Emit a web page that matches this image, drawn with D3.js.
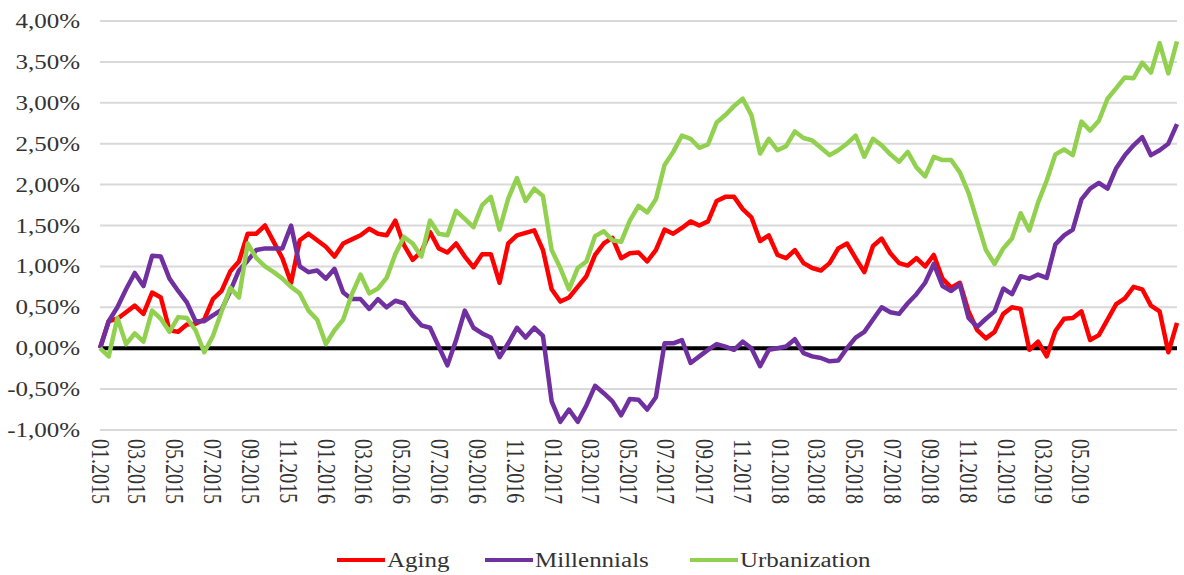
<!DOCTYPE html>
<html lang="en">
  <head>
    <meta charset="UTF-8" />
    <title>Aging, Millennials, Urbanization</title>
    <style>
      body {
        margin: 0;
        background: #fff;
        overflow: hidden;
      }
      text {
        font-family: "Liberation Serif", "Times New Roman", serif;
        fill: #333;
      }
      .grid line {
        stroke: #d9d9d9;
        stroke-width: 2px;
      }
      .series {
        fill: none;
        stroke-width: 4.5px;
        stroke-linejoin: round;
      }
    </style>
  </head>
  <body>
    <div id="chart"></div>
    <script src="https://d3js.org/d3.v7.min.js"></script>
    <script>
      // cumulative performance in %, one reading every two weeks from 01.2015
      const agingValues = [
        0.00, 0.33, 0.36, 0.44, 0.52, 0.42, 0.68, 0.62, 0.22, 0.20,
        0.29, 0.30, 0.35, 0.60, 0.70, 0.94, 1.06, 1.40, 1.40, 1.50,
        1.30, 1.10, 0.80, 1.32, 1.40, 1.32, 1.24, 1.12, 1.28, 1.33,
        1.38, 1.46, 1.40, 1.38, 1.56, 1.26, 1.08, 1.18, 1.42, 1.22,
        1.17, 1.28, 1.12, 0.99, 1.15, 1.15, 0.80, 1.28, 1.38, 1.41,
        1.44, 1.20, 0.72, 0.57, 0.62, 0.75, 0.88, 1.14, 1.28, 1.35,
        1.10, 1.16, 1.17, 1.06, 1.20, 1.45, 1.40, 1.47, 1.55, 1.50,
        1.55, 1.80, 1.85, 1.85, 1.70, 1.60, 1.31, 1.38, 1.14, 1.10,
        1.20, 1.04, 0.98, 0.95, 1.04, 1.22, 1.28, 1.10, 0.93, 1.25,
        1.34, 1.16, 1.04, 1.01, 1.10, 1.00, 1.14, 0.85, 0.74, 0.80,
        0.45, 0.22, 0.12, 0.20, 0.42, 0.50, 0.48, -0.02, 0.08, -0.10,
        0.21, 0.36, 0.37, 0.45, 0.10, 0.16, 0.35, 0.54, 0.61, 0.75,
        0.72, 0.52, 0.45, -0.05, 0.31
      ];
      const millennialsValues = [
        0.00, 0.33, 0.50, 0.72, 0.92, 0.76, 1.13, 1.12, 0.85, 0.70,
        0.56, 0.33, 0.33, 0.40, 0.47, 0.70, 0.95, 1.07, 1.20, 1.22,
        1.22, 1.22, 1.50, 1.00, 0.93, 0.95, 0.85, 0.97, 0.68, 0.60,
        0.60, 0.48, 0.60, 0.50, 0.58, 0.55, 0.40, 0.28, 0.25, 0.02,
        -0.21, 0.10, 0.46, 0.25, 0.18, 0.13, -0.11, 0.06, 0.25, 0.13,
        0.25, 0.15, -0.65, -0.90, -0.75, -0.90, -0.70, -0.46, -0.55, -0.65,
        -0.82, -0.62, -0.63, -0.75, -0.60, 0.06, 0.06, 0.10, -0.18, -0.10,
        -0.02, 0.05, 0.02, -0.02, 0.08, 0.00, -0.22, -0.02, 0.00, 0.02,
        0.11, -0.06, -0.10, -0.12, -0.16, -0.15, 0.00, 0.13, 0.20, 0.35,
        0.50, 0.44, 0.42, 0.55, 0.66, 0.80, 1.03, 0.76, 0.70, 0.78,
        0.37, 0.26, 0.36, 0.45, 0.73, 0.66, 0.88, 0.85, 0.90, 0.86,
        1.27, 1.38, 1.45, 1.82, 1.95, 2.02, 1.95, 2.20, 2.36, 2.48,
        2.58, 2.36, 2.42, 2.50, 2.74
      ];
      const urbanizationValues = [
        0.00, -0.10, 0.37, 0.05, 0.18, 0.08, 0.46, 0.36, 0.20, 0.38,
        0.37, 0.22, -0.05, 0.15, 0.45, 0.74, 0.62, 1.28, 1.10, 1.00,
        0.93, 0.85, 0.75, 0.67, 0.46, 0.35, 0.05, 0.22, 0.35, 0.66,
        0.90, 0.67, 0.73, 0.86, 1.15, 1.36, 1.28, 1.12, 1.56, 1.40,
        1.38, 1.68, 1.58, 1.48, 1.75, 1.85, 1.45, 1.83, 2.08, 1.80,
        1.95, 1.86, 1.20, 0.98, 0.72, 0.98, 1.06, 1.37, 1.43, 1.32,
        1.30, 1.56, 1.74, 1.66, 1.82, 2.24, 2.40, 2.60, 2.56, 2.45,
        2.49, 2.76, 2.85, 2.96, 3.05, 2.85, 2.38, 2.56, 2.42, 2.47,
        2.65, 2.57, 2.54, 2.45, 2.36, 2.42, 2.50, 2.60, 2.34, 2.56,
        2.48, 2.37, 2.28, 2.40, 2.21, 2.10, 2.34, 2.30, 2.30, 2.15,
        1.90, 1.55, 1.20, 1.03, 1.22, 1.34, 1.65, 1.44, 1.78, 2.05,
        2.37, 2.43, 2.36, 2.77, 2.66, 2.78, 3.05, 3.18, 3.31, 3.30,
        3.49, 3.37, 3.73, 3.36, 3.75
      ];

      const seriesNames = ["Aging", "Millennials", "Urbanization"];
      const seriesColors = ["#ff0000", "#7030a0", "#92d050"];
      const yTicks = [-1, -0.5, 0, 0.5, 1, 1.5, 2, 2.5, 3, 3.5, 4];

      const width = 1184;
      const height = 575;
      const margin = { top: 21, right: 7, bottom: 145, left: 100 };
      const stretch = 1.25; // the source picture is wider than tall

      const startDate = new Date(2015, 0, 2);
      const dates = agingValues.map((_, i) => d3.timeDay.offset(startDate, i * 14));
      const monthTicks = d3.timeMonth.range(new Date(2015, 0, 1), new Date(2019, 5, 1), 2);

      const x = d3.scaleTime()
        .domain(d3.extent(dates))
        .range([margin.left, width - margin.right]);
      const y = d3.scaleLinear()
        .domain([-1, 4])
        .range([height - margin.bottom, margin.top]);

      const svg = d3.select("#chart")
        .append("svg")
        .attr("width", width)
        .attr("height", height);

      // horizontal gridlines
      svg.append("g")
        .attr("class", "grid")
        .selectAll("line")
        .data(yTicks.filter(d => d !== 0))
        .enter().append("line")
        .attr("x1", margin.left)
        .attr("x2", width - margin.right)
        .attr("y1", d => y(d))
        .attr("y2", d => y(d));

      // y labels
      const fmt = d => d.toFixed(2).replace(".", ",") + "%";
      svg.append("g")
        .selectAll("text")
        .data(yTicks)
        .enter().append("text")
        .attr("transform", d => `translate(80,${y(d)}) scale(${stretch},1)`)
        .attr("dy", "0.35em")
        .attr("text-anchor", "end")
        .style("font-size", "20px")
        .text(fmt);

      // x labels, rotated
      const xFmt = d3.timeFormat("%m.%Y");
      svg.append("g")
        .selectAll("text")
        .data(monthTicks)
        .enter().append("text")
        .attr("transform", d => `translate(${x(d) + 1},${y(-1) + 9}) scale(${stretch},1) rotate(90)`)
        .attr("dy", "0.35em")
        .style("font-size", "20px")
        .text(xFmt);

      // zero line
      svg.append("line")
        .attr("x1", margin.left)
        .attr("x2", width - margin.right)
        .attr("y1", y(0))
        .attr("y2", y(0))
        .attr("stroke", "#000")
        .attr("stroke-width", 4);

      const series = [agingValues, millennialsValues, urbanizationValues];
      const line = d3.line()
        .x((d, i) => x(dates[i]))
        .y(d => y(d));

      svg.append("g")
        .selectAll("path")
        .data(series)
        .enter().append("path")
        .attr("class", "series")
        .attr("stroke", (d, i) => seriesColors[i])
        .attr("d", line);

      // legend
      const legendX = [337, 485, 690];
      const legend = svg.append("g")
        .selectAll("g")
        .data(seriesNames)
        .enter().append("g")
        .attr("transform", (d, i) => `translate(${legendX[i]},560)`);
      legend.append("line")
        .attr("x1", 0)
        .attr("x2", 48)
        .attr("stroke", (d, i) => seriesColors[i])
        .attr("stroke-width", 4);
      legend.append("text")
        .attr("transform", `translate(50,0) scale(${stretch},1)`)
        .attr("dy", "0.35em")
        .style("font-size", "20px")
        .text(d => d);
    </script>
  </body>
</html>
